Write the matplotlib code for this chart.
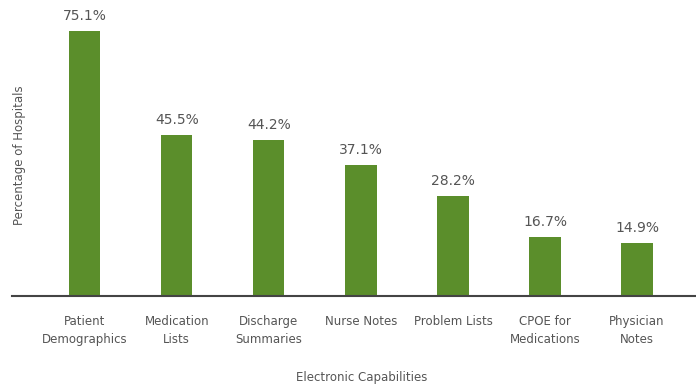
import matplotlib
matplotlib.use("Agg")
import matplotlib.pyplot as plt

categories = ["Patient\nDemographics", "Medication\nLists", "Discharge\nSummaries",
              "Nurse Notes", "Problem Lists", "CPOE for\nMedications", "Physician\nNotes"]
values = [75.1, 45.5, 44.2, 37.1, 28.2, 16.7, 14.9]
labels = ["75.1%", "45.5%", "44.2%", "37.1%", "28.2%", "16.7%", "14.9%"]

green = "#5b8e2b"
grey = "#555555"

fig = plt.figure(figsize=(6.96, 3.86), dpi=100)
ax = fig.add_axes([12/696, 1 - 296/386, 1 - 12/696, 296/386])
x = list(range(len(categories)))
bars = ax.bar(x, values, width=0.34, color=green, zorder=2)
for xi, v, lab in zip(x, values, labels):
    ax.text(xi, v + 2.3, lab, ha="center", va="bottom", fontsize=10, color=grey)

ax.set_xlim(-0.79, 6.64)
ax.set_ylim(0, 83.8)
for s in ["top", "right", "left"]:
    ax.spines[s].set_visible(False)
ax.spines["bottom"].set_color("#444444")
ax.spines["bottom"].set_linewidth(1.5)
ax.set_yticks([])
ax.set_xticks(x)
ax.set_xticklabels(categories, fontsize=8.5, color=grey, linespacing=1.5)
ax.tick_params(axis="x", length=0, pad=14)

fig.text(20/696, 1 - 155/386, "Percentage of Hospitals", rotation=90, ha="center", va="center",
         fontsize=8.5, color=grey)
fig.text(362/696, 1 - 377/386, "Electronic Capabilities", ha="center", va="center",
         fontsize=8.5, color=grey)

fig.savefig("out.png", dpi=100)
